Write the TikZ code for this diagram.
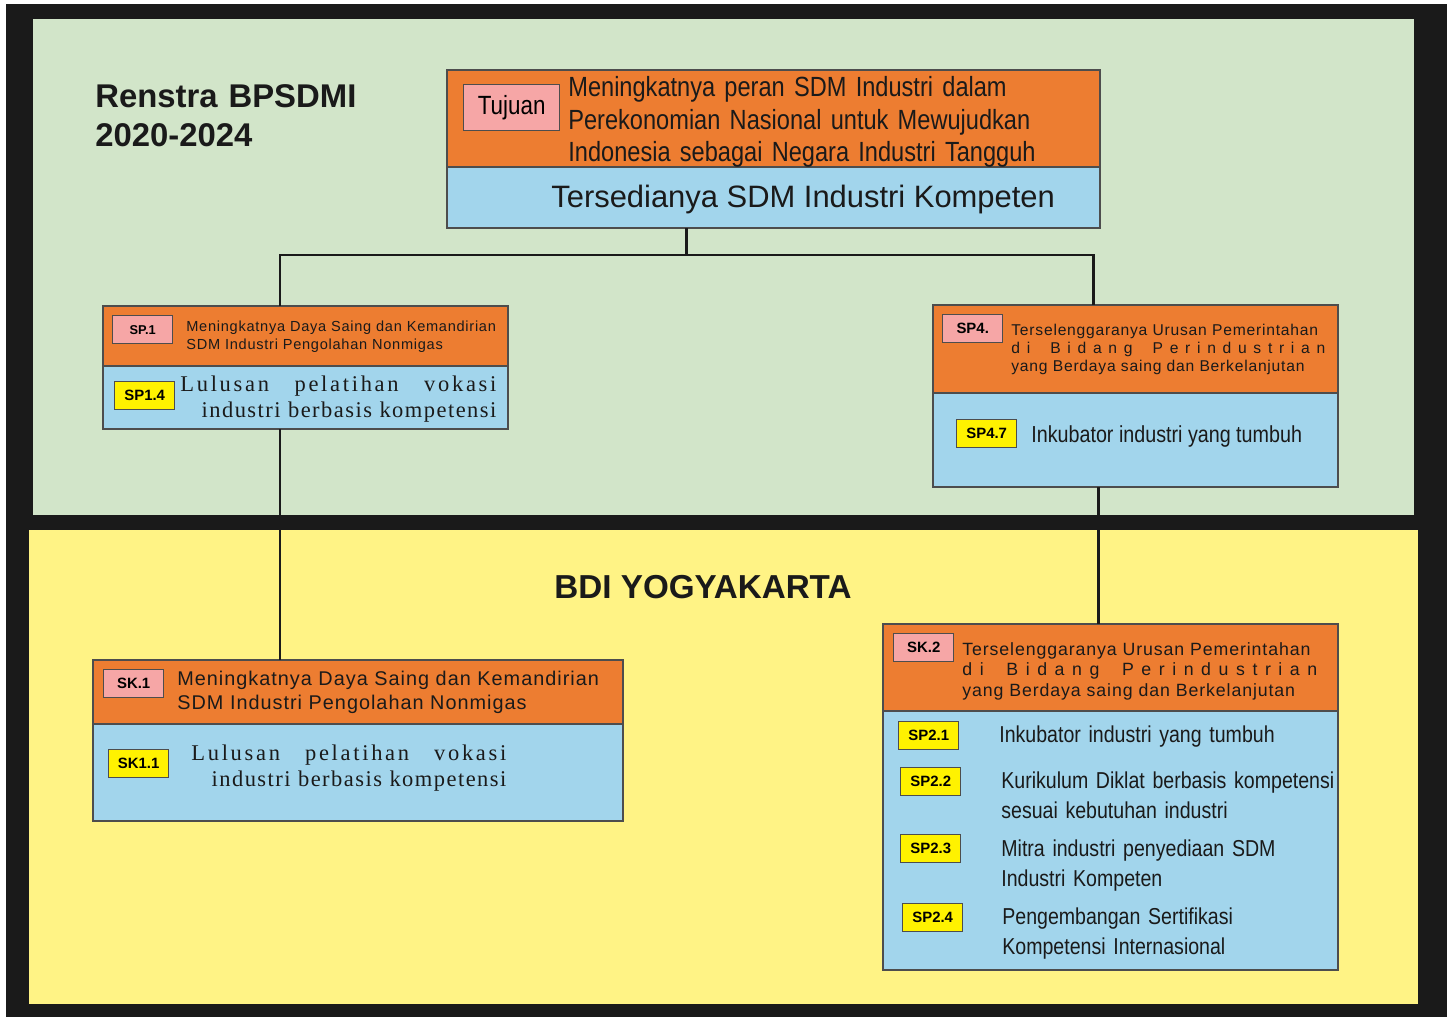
\documentclass[tikz,border=0pt]{standalone}
\usepackage{fontspec}
\setmainfont{Liberation Sans}
\newfontfamily\condfont[FakeStretch=0.85]{Liberation Sans}
\newfontfamily\trkfont[LetterSpace=5]{Liberation Sans}
\newfontfamily\serfont[LetterSpace=6.5]{Liberation Serif}
\newfontfamily\serwfont[LetterSpace=12]{Liberation Serif}
\usetikzlibrary{positioning}
\definecolor{framegray}{HTML}{1A1A1A}
\definecolor{panelgreen}{HTML}{D2E5C9}
\definecolor{panelyellow}{HTML}{FFF385}
\definecolor{boxorange}{HTML}{ED7D31}
\definecolor{boxblue}{HTML}{A2D5EC}
\definecolor{labpink}{HTML}{F6A6A6}
\definecolor{labyellow}{HTML}{FFF200}
\definecolor{edgegray}{HTML}{4D4D4D}
\newcommand{\upx}{0.02cm}
% spread lines
\newcommand{\lulusan}[1]{\leavevmode\hbox to #1{\serwfont Lulusan\hfill pelatihan\hfill vokasi}}
\newcommand{\bidang}[1]{\leavevmode\hbox to #1{d\hfill i\hfill\hfill\hfill B\hfill i\hfill d\hfill a\hfill n\hfill g\hfill\hfill\hfill
    P\hfill e\hfill r\hfill i\hfill n\hfill d\hfill u\hfill s\hfill t\hfill r\hfill i\hfill a\hfill n}}

\begin{document}
\begin{tikzpicture}[x=0.02cm, y=-0.02cm,
    obox/.style={draw=edgegray, line width=0.8pt, fill=boxorange, anchor=north west, inner sep=0, outer sep=0},
    bbox/.style={obox, fill=boxblue},
    lab/.style={draw=edgegray, line width=0.8pt, fill=labpink, anchor=north west, inner sep=0,
        minimum width=60*\upx, minimum height=28*\upx, font=\bfseries\fontsize{8.5}{10}\selectfont},
    ylab/.style={lab, fill=labyellow},
    conn/.style={line width=1.7pt, framegray},
    txt/.style={anchor=base west, inner sep=0, align=left, text=framegray}]
    \useasboundingbox (0,0) rectangle (1447,1017);

    % Frame and panels
    \fill[framegray] (6,4) rectangle (1447,1017);
    \fill[panelgreen] (33,19) rectangle (1414,515);
    \fill[panelyellow] (29,530) rectangle (1418,1004);

    \node[txt, text width=8cm, font=\bfseries\fontsize{18.7}{22.1}\selectfont] (renstra) at (95,108) {Renstra BPSDMI\\2020-2024};
    \node[txt, anchor=base, font=\bfseries\fontsize{18.9}{22.1}\selectfont] (bdi) at (703,598) {BDI YOGYAKARTA};

    % Tujuan
    \node[obox, minimum width=653*\upx, minimum height=97*\upx] (tuj) at (447,70) {};
    \node[bbox, minimum width=653*\upx, minimum height=61*\upx] (tujb) at (tuj.south west) {};
    \node[lab, minimum width=96*\upx, minimum height=46*\upx, font=\condfont\fontsize{15}{18}\selectfont] (tujlab) at (463,84) {Tujuan};
    \node[txt, text width=10.2cm, font=\condfont\fontsize{15.8}{18.4}\selectfont] (tujtxt) at (568,96.7)
        {Meningkatnya peran SDM Industri dalam\\Perekonomian Nasional untuk Mewujudkan\\Indonesia sebagai Negara Industri Tangguh};
    \node[txt, font=\fontsize{17.6}{20}\selectfont] (tujsas) at (551,207) {Tersedianya SDM Industri Kompeten};

    % SP1
    \node[obox, minimum width=405*\upx, minimum height=60*\upx] (sp1) at (103,306) {};
    \node[bbox, minimum width=405*\upx, minimum height=63*\upx] (sp1b) at (sp1.south west) {};
    \node[lab, font=\bfseries\fontsize{7.3}{9}\selectfont] (sp1lab) at (112,315) {SP.1};
    \node[txt, text width=7cm, font=\trkfont\fontsize{8.3}{10}\selectfont] (sp1txt) at (186,331.7)
        {Meningkatnya Daya Saing dan Kemandirian\\SDM Industri Pengolahan Nonmigas};
    \node[ylab] (sp14lab) at (114,381) {SP1.4};
    \node[txt, text width=316*\upx, align=right, font=\serfont\fontsize{12.8}{14.9}\selectfont] (sp14txt) at (180,391.7)
        {\lulusan{6.32cm}\\industri berbasis kompetensi};

    % SP4
    \node[obox, minimum width=405*\upx, minimum height=88*\upx] (sp4) at (933,305) {};
    \node[bbox, minimum width=405*\upx, minimum height=94*\upx] (sp4b) at (sp4.south west) {};
    \node[lab] (sp4lab) at (942,314) {SP4.};
    \node[txt, text width=316*\upx, font=\trkfont\fontsize{8.9}{10.4}\selectfont] (sp4txt) at (1011,335)
        {Terselenggaranya Urusan Pemerintahan\\\bidang{6.28cm}\\yang Berdaya saing dan Berkelanjutan};
    \node[ylab] (sp47lab) at (956,419) {SP4.7};
    \node[txt, font=\condfont\fontsize{13.2}{17.3}\selectfont] (sp47txt) at (1031,442) {Inkubator industri yang tumbuh};

    % SK1
    \node[obox, minimum width=530*\upx, minimum height=64*\upx] (sk1) at (93,660) {};
    \node[bbox, minimum width=530*\upx, minimum height=97*\upx] (sk1b) at (sk1.south west) {};
    \node[lab] (sk1lab) at (103,669) {SK.1};
    \node[txt, text width=9cm, font=\trkfont\fontsize{11.3}{13.9}\selectfont] (sk1txt) at (177,685)
        {Meningkatnya Daya Saing dan Kemandirian\\SDM Industri Pengolahan Nonmigas};
    \node[ylab] (sk11lab) at (108,749) {SK1.1};
    \node[txt, text width=316*\upx, align=right, font=\serfont\fontsize{12.8}{14.9}\selectfont] (sk11txt) at (190,760)
        {\lulusan{6.3cm}\\industri berbasis kompetensi};

    % SK2
    \node[obox, minimum width=455*\upx, minimum height=87*\upx] (sk2) at (883,624) {};
    \node[bbox, minimum width=455*\upx, minimum height=259*\upx] (sk2b) at (sk2.south west) {};
    \node[lab] (sk2lab) at (893,633) {SK.2};
    \node[txt, text width=360*\upx, font=\trkfont\fontsize{10.1}{11.9}\selectfont] (sk2txt) at (962,655)
        {Terselenggaranya Urusan Pemerintahan\\\bidang{7.1cm}\\yang Berdaya saing dan Berkelanjutan};
    \foreach \i/\lx/\ly/\tx/\ty/\txt in {
        1/898/721/999/742.7/{Inkubator industri yang tumbuh},
        2/900/767/1001/788/{Kurikulum Diklat berbasis kompetensi\\sesuai kebutuhan industri},
        3/900/834/1001/856/{Mitra industri penyediaan SDM\\Industri Kompeten},
        4/902/903/1002/924/{Pengembangan Sertifikasi\\Kompetensi Internasional}} {
        \node[ylab] (sk2lab\i) at (\lx,\ly) {SP2.\i};
        \node[txt, text width=7cm, font=\condfont\fontsize{13.1}{17.3}\selectfont] (sk2txt\i) at (\tx,\ty) {\txt};
    }

    % Connectors
    \coordinate (hub) at (686,255);
    \coordinate (d1) at ([xshift=177*\upx]sp1b.south west);
    \coordinate (d4) at ([xshift=165*\upx]sp4b.south west);
    \draw[conn] (tujb.south -| hub) -- (hub);
    \draw[conn] (hub) -| ([xshift=177*\upx]sp1.north west);
    \draw[conn] (hub) -| ([xshift=160*\upx]sp4.north west);
    \draw[conn] (d1) -- (d1 |- sk1.north);
    \draw[conn] (d4) -- (d4 |- sk2.north);
\end{tikzpicture}
\end{document}
